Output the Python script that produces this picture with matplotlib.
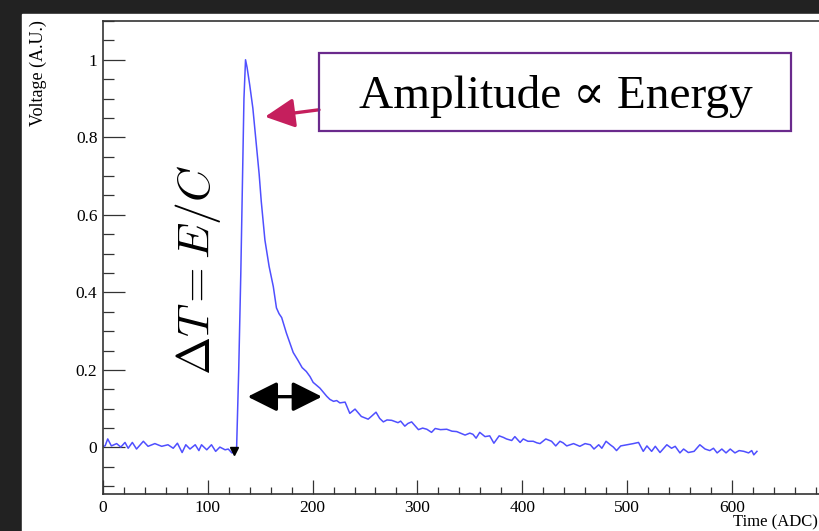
import matplotlib
matplotlib.use('Agg')
import matplotlib.pyplot as plt
from matplotlib.patches import Rectangle
from matplotlib.ticker import MultipleLocator, FuncFormatter

# Waveform (time in ADC ticks, voltage in A.U.)
time_adc = [0, 2, 4.5, 8, 13, 17, 21, 24, 28, 32, 38.5, 43, 49.5, 56, 62, 67,
            71, 75.5, 79, 83, 88, 91.5, 94, 99, 103.5, 107.5, 111.5, 116.5,
            119.5, 123, 125.5, 127.5, 129.5, 131.5, 133, 134.5, 136, 137.5,
            140, 143, 146, 149, 151, 154.5, 158.5, 162.5, 165.5, 168, 170.5,
            175, 181.5, 186, 190, 194, 197.5, 200.5, 204, 207, 213.5, 216.5,
            220, 223, 226, 231, 235.5, 240.5, 246.5, 253, 256, 260.5, 264,
            267.5, 271, 275.5, 281.5, 284, 288, 291, 294.5, 298, 301, 305,
            309, 313.5, 317, 322, 328, 333, 337.5, 341, 345.5, 350, 353, 356,
            359.5, 364.5, 369, 373, 378, 382, 385, 390, 393, 398, 401, 405.5,
            410.5, 414, 417, 422.5, 428, 432, 436, 439, 442.5, 449, 455, 460,
            465, 468.5, 473, 476, 480, 484, 487, 490, 494, 500, 506, 511,
            515.5, 519, 523.5, 527, 531.5, 538, 542.5, 546, 550.5, 554, 558.5,
            564, 569.5, 574.5, 579, 582.5, 586, 590.5, 594.5, 598.5, 603, 607,
            611.5, 616, 619, 621, 624]
voltage = [0.003, 0.004, 0.022, 0.004, 0.010, 0.001, 0.013, -0.002, 0.013,
           -0.004, 0.016, 0.003, 0.010, 0.003, 0.007, -0.002, 0.011, -0.013,
           0.007, -0.004, 0.007, -0.008, 0.007, -0.006, 0.007, -0.010, 0.001,
           -0.006, -0.004, -0.014, -0.010, 0.0, 0.20, 0.45, 0.68, 0.90, 1.0,
           0.98, 0.935, 0.875, 0.79, 0.705, 0.635, 0.535, 0.467, 0.415, 0.36,
           0.345, 0.335, 0.295, 0.245, 0.225, 0.206, 0.196, 0.183, 0.168,
           0.160, 0.153, 0.132, 0.124, 0.119, 0.121, 0.115, 0.117, 0.088,
           0.099, 0.080, 0.073, 0.080, 0.091, 0.075, 0.066, 0.071, 0.070,
           0.064, 0.068, 0.055, 0.062, 0.066, 0.055, 0.046, 0.050, 0.047,
           0.039, 0.049, 0.046, 0.047, 0.042, 0.041, 0.037, 0.032, 0.037,
           0.034, 0.024, 0.039, 0.028, 0.030, 0.011, 0.030, 0.026, 0.022,
           0.018, 0.028, 0.013, 0.022, 0.016, 0.016, 0.012, 0.010, 0.022,
           0.016, 0.004, 0.016, 0.012, 0.004, 0.010, 0.003, 0.010, 0.007,
           -0.004, 0.007, -0.002, 0.016, 0.007, 0.001, -0.008, 0.004, 0.007,
           0.010, 0.013, -0.010, 0.004, -0.010, 0.003, -0.013, 0.007, -0.002,
           0.003, -0.014, -0.004, -0.013, -0.010, 0.007, -0.004, -0.008,
           -0.002, -0.014, -0.004, -0.014, -0.004, -0.014, -0.008, -0.010,
           -0.014, -0.008, -0.019, -0.010]

# start-of-pulse marker
start_time = [125]
start_volt = [-0.008]

plt.rcParams['font.family'] = ['Liberation Serif', 'DejaVu Serif']
plt.rcParams['mathtext.fontset'] = 'cm'

fig = plt.figure(figsize=(8.2, 5.31), dpi=100, facecolor='#222222')
# white page on the dark background
fig.patches.append(Rectangle((22 / 820, 0), 1, (531 - 14) / 531,
                             transform=fig.transFigure, color='white',
                             zorder=-10))

ax = fig.add_axes([103 / 820, 37 / 531, 733.6 / 820, 473 / 531])
ax.plot(time_adc, voltage, color='#4f4fff', lw=1.1)
ax.plot(start_time, start_volt, 'v', color='black', markersize=6)

ax.set_xlim(0, 700)
ax.set_ylim(-0.12, 1.1)

for side in ['left', 'bottom', 'top', 'right']:
    ax.spines[side].set_color('#333333')
    ax.spines[side].set_linewidth(1.2)

ax.set_xticks([0, 100, 200, 300, 400, 500, 600])
ax.xaxis.set_minor_locator(MultipleLocator(20))
ax.yaxis.set_major_locator(MultipleLocator(0.2))
ax.yaxis.set_minor_locator(MultipleLocator(0.05))
ax.yaxis.set_major_formatter(FuncFormatter(lambda v, p: f'{v:g}'))
ax.tick_params(axis='x', which='major', direction='in', length=10, width=0.9,
               labelsize=12.5, pad=4, color='#333333')
ax.tick_params(axis='x', which='minor', direction='in', length=5, width=0.9,
               color='#333333')
ax.tick_params(axis='y', which='major', direction='in', length=16, width=0.9,
               labelsize=12.5, pad=4, color='#333333')
ax.tick_params(axis='y', which='minor', direction='in', length=8, width=0.9,
               color='#333333')

fig.text(38 / 820, 1 - 20 / 531, 'Voltage (A.U.)', rotation=90,
         ha='center', va='top', fontsize=13)
fig.text(818 / 820, 0.5 / 531, 'Time (ADC)', ha='right', va='bottom',
         fontsize=12)

# annotation box
fig.patches.append(Rectangle((319 / 820, 1 - 131 / 531), 472 / 820, 78 / 531,
                             transform=fig.transFigure, fill=False,
                             edgecolor='#6a2a8c', lw=1.6, zorder=5))
fig.text(556 / 820, 1 - 108 / 531, 'Amplitude \u221d Energy', ha='center',
         va='baseline', fontsize=34)

ax.annotate('', xy=(154.6, 0.853), xytext=(206.1, 0.871),
            arrowprops=dict(arrowstyle='-|>,head_length=0.9,head_width=0.45',
                            mutation_scale=20, lw=2.4, color='#c51f5d',
                            shrinkA=0, shrinkB=0))

ax.annotate('', xy=(138, 0.131), xytext=(209, 0.131),
            arrowprops=dict(arrowstyle='<|-|>,head_length=0.9,head_width=0.45',
                            mutation_scale=20, lw=2.4, color='black',
                            shrinkA=0, shrinkB=0))

fig.text(198 / 820, 1 - 270 / 531, r'$\Delta T = E/C$', rotation=90,
         ha='center', va='center', fontsize=33)

fig.savefig('out.png', dpi=100, facecolor=fig.get_facecolor())
